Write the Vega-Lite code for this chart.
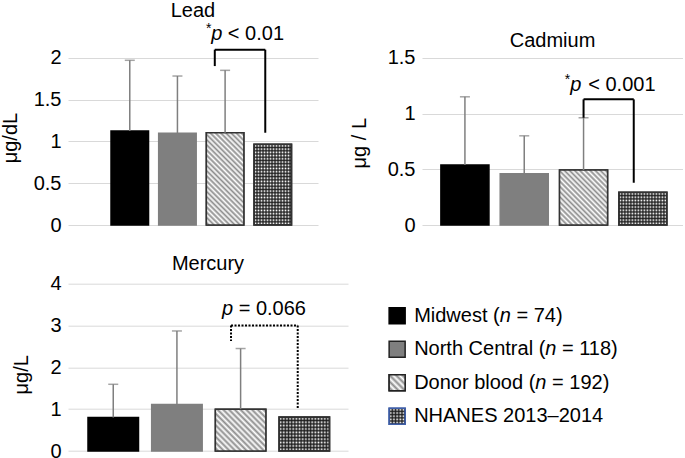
{
  "$schema": "https://vega.github.io/schema/vega-lite/v6.json",
  "background": "white",
  "padding": {"left": 0, "top": 0, "right": 0, "bottom": 3},
  "config": {
    "font": "Liberation Sans",
    "view": {"stroke": null},
    "text": {"font": "Liberation Sans", "fontSize": 20, "color": "#000"},
    "axis": {"labelFontSize": 20, "titleFontSize": 20, "labelColor": "#000", "titleColor": "#000", "titleFontWeight": "normal", "domain": false, "ticks": false, "gridColor": "#d9d9d9", "gridWidth": 1, "labelPadding": 7, "labelFont": "Liberation Sans", "titleFont": "Liberation Sans", "format": "~g"},
    "title": {"fontSize": 20, "fontWeight": "normal", "font": "Liberation Sans", "color": "#000", "frame": "group", "baseline": "alphabetic"}
  },
  "datasets": {
    "bars": [
      {"panel": "Lead", "g": "Midwest", "mean": 1.124, "upper": 1.969},
      {"panel": "Lead", "g": "North Central", "mean": 1.096, "upper": 1.781},
      {"panel": "Lead", "g": "Donor blood", "mean": 1.103, "upper": 1.849},
      {"panel": "Lead", "g": "NHANES 2013–2014", "mean": 0.965, "upper": null},
      {"panel": "Cadmium", "g": "Midwest", "mean": 0.538, "upper": 1.15},
      {"panel": "Cadmium", "g": "North Central", "mean": 0.46, "upper": 0.8},
      {"panel": "Cadmium", "g": "Donor blood", "mean": 0.493, "upper": 0.962},
      {"panel": "Cadmium", "g": "NHANES 2013–2014", "mean": 0.293, "upper": null},
      {"panel": "Mercury", "g": "Midwest", "mean": 0.8, "upper": 1.595},
      {"panel": "Mercury", "g": "North Central", "mean": 1.11, "upper": 2.87},
      {"panel": "Mercury", "g": "Donor blood", "mean": 1.0, "upper": 2.45},
      {"panel": "Mercury", "g": "NHANES 2013–2014", "mean": 0.81, "upper": null}
    ],
    "brackets": [
      {"panel": "Lead", "left": "Donor blood", "right": "NHANES 2013–2014", "top": 2.096, "lbot": 1.9, "rbot": 1.103, "ty": 2.212},
      {"panel": "Cadmium", "left": "Donor blood", "right": "NHANES 2013–2014", "top": 1.127, "lbot": 0.962, "rbot": 0.379, "ty": 1.202},
      {"panel": "Mercury", "left": "Donor blood", "right": "NHANES 2013–2014", "top": 3.0, "lbot": 2.63, "rbot": 1.0, "ty": 3.244}
    ],
    "legend": [
      {"g": "Midwest", "pre": "Midwest (", "post": "= 74)"},
      {"g": "North Central", "pre": "North Central (", "post": "= 118)"},
      {"g": "Donor blood", "pre": "Donor blood (", "post": "= 192)"},
      {"g": "NHANES 2013–2014", "pre": "NHANES 2013–2014", "post": ""}
    ]
  },
  "resolve": {"scale": {"fill": "independent", "stroke": "independent"}},
  "columns": 2,
  "bounds": "flush",
  "spacing": {"row": 58.7, "column": 74},
  "concat": [
    {
      "width": 250, "height": 200,
      "title": {"text": "Lead", "offset": 1},
      "data": {"name": "bars"},
      "transform": [{"filter": "datum.panel == 'Lead'"}],
      "encoding": {
        "x": {"field": "g", "type": "nominal", "axis": null, "scale": {"domain": ["Midwest", "North Central", "Donor blood", "NHANES 2013–2014"], "paddingInner": 0.213, "paddingOuter": 0.729, "align": 0.619}},
        "y": {"field": "mean", "type": "quantitative", "scale": {"domain": [0, 2.391], "nice": false}, "axis": {"values": [0, 0.5, 1, 1.5, 2], "title": "μg/dL", "titlePadding": 13, "titleY": 112.6}}
      },
      "layer": [
        {"mark": {"type": "bar", "strokeWidth": 1.5},
         "encoding": {
           "fill": {"field": "g", "scale": {"domain": ["Midwest", "North Central", "Donor blood", "NHANES 2013–2014"], "range": ["#000000", "#7f7f7f", "#ffffff", "#ffffff"]}, "legend": null},
           "stroke": {"field": "g", "scale": {"domain": ["Midwest", "North Central", "Donor blood", "NHANES 2013–2014"], "range": ["#000000", "#7f7f7f", "#333333", "#333333"]}, "legend": null}}},
        {"transform": [{"filter": "datum.g == 'Donor blood'"}],
         "mark": {"type": "bar", "stroke": "#333333", "strokeWidth": 1.5,
           "fill": {"gradient": "linear", "x1": 0, "y1": 1, "x2": 0.49, "y2": -0.207, "stops": [{"offset":0,"color":"#fff"},{"offset":0.02,"color":"#8c8c8c"},{"offset":0.04,"color":"#fff"},{"offset":0.06,"color":"#8c8c8c"},{"offset":0.08,"color":"#fff"},{"offset":0.1,"color":"#8c8c8c"},{"offset":0.12,"color":"#fff"},{"offset":0.14,"color":"#8c8c8c"},{"offset":0.16,"color":"#fff"},{"offset":0.18,"color":"#8c8c8c"},{"offset":0.2,"color":"#fff"},{"offset":0.22,"color":"#8c8c8c"},{"offset":0.24,"color":"#fff"},{"offset":0.26,"color":"#8c8c8c"},{"offset":0.28,"color":"#fff"},{"offset":0.3,"color":"#8c8c8c"},{"offset":0.32,"color":"#fff"},{"offset":0.34,"color":"#8c8c8c"},{"offset":0.36,"color":"#fff"},{"offset":0.38,"color":"#8c8c8c"},{"offset":0.4,"color":"#fff"},{"offset":0.42,"color":"#8c8c8c"},{"offset":0.44,"color":"#fff"},{"offset":0.46,"color":"#8c8c8c"},{"offset":0.48,"color":"#fff"},{"offset":0.5,"color":"#8c8c8c"},{"offset":0.52,"color":"#fff"},{"offset":0.54,"color":"#8c8c8c"},{"offset":0.56,"color":"#fff"},{"offset":0.58,"color":"#8c8c8c"},{"offset":0.6,"color":"#fff"},{"offset":0.62,"color":"#8c8c8c"},{"offset":0.64,"color":"#fff"},{"offset":0.66,"color":"#8c8c8c"},{"offset":0.68,"color":"#fff"},{"offset":0.7,"color":"#8c8c8c"},{"offset":0.72,"color":"#fff"},{"offset":0.74,"color":"#8c8c8c"},{"offset":0.76,"color":"#fff"},{"offset":0.78,"color":"#8c8c8c"},{"offset":0.8,"color":"#fff"},{"offset":0.82,"color":"#8c8c8c"},{"offset":0.84,"color":"#fff"},{"offset":0.86,"color":"#8c8c8c"},{"offset":0.88,"color":"#fff"},{"offset":0.9,"color":"#8c8c8c"},{"offset":0.92,"color":"#fff"},{"offset":0.94,"color":"#8c8c8c"},{"offset":0.96,"color":"#fff"},{"offset":0.98,"color":"#8c8c8c"},{"offset":1,"color":"#fff"}]}}},
        {"transform": [{"filter": "datum.g == 'NHANES 2013–2014'"}],
         "mark": {"type": "bar", "strokeWidth": 0,
           "fill": {"gradient": "linear", "x1": 0, "y1": 0, "x2": 1, "y2": 0, "stops": [{"offset":0,"color":"rgba(25,25,25,0.9)"},{"offset":0.04,"color":"rgba(25,25,25,0)"},{"offset":0.08,"color":"rgba(25,25,25,0.9)"},{"offset":0.12,"color":"rgba(25,25,25,0)"},{"offset":0.16,"color":"rgba(25,25,25,0.9)"},{"offset":0.2,"color":"rgba(25,25,25,0)"},{"offset":0.24,"color":"rgba(25,25,25,0.9)"},{"offset":0.28,"color":"rgba(25,25,25,0)"},{"offset":0.32,"color":"rgba(25,25,25,0.9)"},{"offset":0.36,"color":"rgba(25,25,25,0)"},{"offset":0.4,"color":"rgba(25,25,25,0.9)"},{"offset":0.44,"color":"rgba(25,25,25,0)"},{"offset":0.48,"color":"rgba(25,25,25,0.9)"},{"offset":0.52,"color":"rgba(25,25,25,0)"},{"offset":0.56,"color":"rgba(25,25,25,0.9)"},{"offset":0.6,"color":"rgba(25,25,25,0)"},{"offset":0.64,"color":"rgba(25,25,25,0.9)"},{"offset":0.68,"color":"rgba(25,25,25,0)"},{"offset":0.72,"color":"rgba(25,25,25,0.9)"},{"offset":0.76,"color":"rgba(25,25,25,0)"},{"offset":0.8,"color":"rgba(25,25,25,0.9)"},{"offset":0.84,"color":"rgba(25,25,25,0)"},{"offset":0.88,"color":"rgba(25,25,25,0.9)"},{"offset":0.92,"color":"rgba(25,25,25,0)"},{"offset":0.96,"color":"rgba(25,25,25,0.9)"},{"offset":1,"color":"rgba(25,25,25,0)"}]}}},
        {"transform": [{"filter": "datum.g == 'NHANES 2013–2014'"}],
         "mark": {"type": "bar", "stroke": "#333333", "strokeWidth": 1.5,
           "fill": {"gradient": "linear", "x1": 0, "y1": 0, "x2": 0, "y2": 1, "stops": [{"offset":0,"color":"rgba(25,25,25,0.9)"},{"offset":0.02,"color":"rgba(25,25,25,0)"},{"offset":0.04,"color":"rgba(25,25,25,0.9)"},{"offset":0.06,"color":"rgba(25,25,25,0)"},{"offset":0.08,"color":"rgba(25,25,25,0.9)"},{"offset":0.1,"color":"rgba(25,25,25,0)"},{"offset":0.12,"color":"rgba(25,25,25,0.9)"},{"offset":0.14,"color":"rgba(25,25,25,0)"},{"offset":0.16,"color":"rgba(25,25,25,0.9)"},{"offset":0.18,"color":"rgba(25,25,25,0)"},{"offset":0.2,"color":"rgba(25,25,25,0.9)"},{"offset":0.22,"color":"rgba(25,25,25,0)"},{"offset":0.24,"color":"rgba(25,25,25,0.9)"},{"offset":0.26,"color":"rgba(25,25,25,0)"},{"offset":0.28,"color":"rgba(25,25,25,0.9)"},{"offset":0.3,"color":"rgba(25,25,25,0)"},{"offset":0.32,"color":"rgba(25,25,25,0.9)"},{"offset":0.34,"color":"rgba(25,25,25,0)"},{"offset":0.36,"color":"rgba(25,25,25,0.9)"},{"offset":0.38,"color":"rgba(25,25,25,0)"},{"offset":0.4,"color":"rgba(25,25,25,0.9)"},{"offset":0.42,"color":"rgba(25,25,25,0)"},{"offset":0.44,"color":"rgba(25,25,25,0.9)"},{"offset":0.46,"color":"rgba(25,25,25,0)"},{"offset":0.48,"color":"rgba(25,25,25,0.9)"},{"offset":0.5,"color":"rgba(25,25,25,0)"},{"offset":0.52,"color":"rgba(25,25,25,0.9)"},{"offset":0.54,"color":"rgba(25,25,25,0)"},{"offset":0.56,"color":"rgba(25,25,25,0.9)"},{"offset":0.58,"color":"rgba(25,25,25,0)"},{"offset":0.6,"color":"rgba(25,25,25,0.9)"},{"offset":0.62,"color":"rgba(25,25,25,0)"},{"offset":0.64,"color":"rgba(25,25,25,0.9)"},{"offset":0.66,"color":"rgba(25,25,25,0)"},{"offset":0.68,"color":"rgba(25,25,25,0.9)"},{"offset":0.7,"color":"rgba(25,25,25,0)"},{"offset":0.72,"color":"rgba(25,25,25,0.9)"},{"offset":0.74,"color":"rgba(25,25,25,0)"},{"offset":0.76,"color":"rgba(25,25,25,0.9)"},{"offset":0.78,"color":"rgba(25,25,25,0)"},{"offset":0.8,"color":"rgba(25,25,25,0.9)"},{"offset":0.82,"color":"rgba(25,25,25,0)"},{"offset":0.84,"color":"rgba(25,25,25,0.9)"},{"offset":0.86,"color":"rgba(25,25,25,0)"},{"offset":0.88,"color":"rgba(25,25,25,0.9)"},{"offset":0.9,"color":"rgba(25,25,25,0)"},{"offset":0.92,"color":"rgba(25,25,25,0.9)"},{"offset":0.94,"color":"rgba(25,25,25,0)"},{"offset":0.96,"color":"rgba(25,25,25,0.9)"},{"offset":0.98,"color":"rgba(25,25,25,0)"},{"offset":1,"color":"rgba(25,25,25,0.9)"}]}}},
        {"transform": [{"filter": "isValid(datum.upper)"}],
         "mark": {"type": "rule", "color": "#7f7f7f", "strokeWidth": 1.5},
         "encoding": {"y2": {"field": "upper"}}},
        {"transform": [{"filter": "isValid(datum.upper)"}],
         "mark": {"type": "tick", "color": "#7f7f7f", "thickness": 1.5, "size": 10},
         "encoding": {"y": {"field": "upper", "type": "quantitative", "title": "μg/dL"}}},
        {"data": {"name": "brackets"},
         "transform": [{"filter": "datum.panel == 'Lead'"}],
         "layer": [
           {"mark": {"type": "rule", "color": "#000", "strokeWidth": 2},
            "encoding": {"x": {"field": "left", "type": "nominal", "bandPosition": 0.225, "axis": null}, "y": {"field": "top", "type": "quantitative", "title": "μg/dL"}, "y2": {"field": "lbot"}}},
           {"mark": {"type": "rule", "color": "#000", "strokeWidth": 2},
            "encoding": {"x": {"field": "right", "type": "nominal", "bandPosition": 0.3, "axis": null}, "y": {"field": "top", "type": "quantitative", "title": "μg/dL"}, "y2": {"field": "rbot"}}},
           {"mark": {"type": "rule", "color": "#000", "strokeWidth": 2},
            "encoding": {"x": {"field": "left", "type": "nominal", "bandPosition": 0.225, "axis": null}, "x2": {"field": "right", "bandPosition": 0.3}, "y": {"field": "top", "type": "quantitative", "title": "μg/dL"}}},
           {"mark": {"type": "text", "text": "*", "fontSize": 14, "align": "right", "baseline": "alphabetic", "dx": 5, "dy": -7},
            "encoding": {"x": {"field": "left", "type": "nominal", "bandPosition": 0, "axis": null}, "y": {"field": "ty", "type": "quantitative", "title": "μg/dL"}}},
           {"mark": {"type": "text", "text": "p", "fontStyle": "italic", "fontSize": 20, "align": "left", "baseline": "alphabetic", "dx": 5},
            "encoding": {"x": {"field": "left", "type": "nominal", "bandPosition": 0, "axis": null}, "y": {"field": "ty", "type": "quantitative", "title": "μg/dL"}}},
           {"mark": {"type": "text", "text": "< 0.01", "fontSize": 20, "align": "left", "baseline": "alphabetic", "dx": 21.5},
            "encoding": {"x": {"field": "left", "type": "nominal", "bandPosition": 0, "axis": null}, "y": {"field": "ty", "type": "quantitative", "title": "μg/dL"}}}
         ]}
      ]
    },
    {
      "width": 261, "height": 200,
      "title": {"text": "Cadmium", "offset": -26},
      "data": {"name": "bars"},
      "transform": [{"filter": "datum.panel == 'Cadmium'"}],
      "encoding": {
        "x": {"field": "g", "type": "nominal", "axis": null, "scale": {"domain": ["Midwest", "North Central", "Donor blood", "NHANES 2013–2014"], "paddingInner": 0.19, "paddingOuter": 0.295, "align": 0.54}},
        "y": {"field": "mean", "type": "quantitative", "scale": {"domain": [0, 1.794], "nice": false}, "axis": {"values": [0, 0.5, 1, 1.5], "title": "μg / L", "titlePadding": 18, "titleY": 117.7}}
      },
      "layer": [
        {"mark": {"type": "bar", "strokeWidth": 1.5},
         "encoding": {
           "fill": {"field": "g", "scale": {"domain": ["Midwest", "North Central", "Donor blood", "NHANES 2013–2014"], "range": ["#000000", "#7f7f7f", "#ffffff", "#ffffff"]}, "legend": null},
           "stroke": {"field": "g", "scale": {"domain": ["Midwest", "North Central", "Donor blood", "NHANES 2013–2014"], "range": ["#000000", "#7f7f7f", "#333333", "#333333"]}, "legend": null}}},
        {"transform": [{"filter": "datum.g == 'Donor blood'"}],
         "mark": {"type": "bar", "stroke": "#333333", "strokeWidth": 1.5,
           "fill": {"gradient": "linear", "x1": 0, "y1": 1, "x2": 0.933, "y2": -0.06, "stops": [{"offset":0,"color":"#fff"},{"offset":0.025,"color":"#8c8c8c"},{"offset":0.05,"color":"#fff"},{"offset":0.075,"color":"#8c8c8c"},{"offset":0.1,"color":"#fff"},{"offset":0.125,"color":"#8c8c8c"},{"offset":0.15,"color":"#fff"},{"offset":0.175,"color":"#8c8c8c"},{"offset":0.2,"color":"#fff"},{"offset":0.225,"color":"#8c8c8c"},{"offset":0.25,"color":"#fff"},{"offset":0.275,"color":"#8c8c8c"},{"offset":0.3,"color":"#fff"},{"offset":0.325,"color":"#8c8c8c"},{"offset":0.35,"color":"#fff"},{"offset":0.375,"color":"#8c8c8c"},{"offset":0.4,"color":"#fff"},{"offset":0.425,"color":"#8c8c8c"},{"offset":0.45,"color":"#fff"},{"offset":0.475,"color":"#8c8c8c"},{"offset":0.5,"color":"#fff"},{"offset":0.525,"color":"#8c8c8c"},{"offset":0.55,"color":"#fff"},{"offset":0.575,"color":"#8c8c8c"},{"offset":0.6,"color":"#fff"},{"offset":0.625,"color":"#8c8c8c"},{"offset":0.65,"color":"#fff"},{"offset":0.675,"color":"#8c8c8c"},{"offset":0.7,"color":"#fff"},{"offset":0.725,"color":"#8c8c8c"},{"offset":0.75,"color":"#fff"},{"offset":0.775,"color":"#8c8c8c"},{"offset":0.8,"color":"#fff"},{"offset":0.825,"color":"#8c8c8c"},{"offset":0.85,"color":"#fff"},{"offset":0.875,"color":"#8c8c8c"},{"offset":0.9,"color":"#fff"},{"offset":0.925,"color":"#8c8c8c"},{"offset":0.95,"color":"#fff"},{"offset":0.975,"color":"#8c8c8c"},{"offset":1,"color":"#fff"}]}}},
        {"transform": [{"filter": "datum.g == 'NHANES 2013–2014'"}],
         "mark": {"type": "bar", "strokeWidth": 0,
           "fill": {"gradient": "linear", "x1": 0, "y1": 0, "x2": 1, "y2": 0, "stops": [{"offset":0,"color":"rgba(25,25,25,0.9)"},{"offset":0.03125,"color":"rgba(25,25,25,0)"},{"offset":0.0625,"color":"rgba(25,25,25,0.9)"},{"offset":0.09375,"color":"rgba(25,25,25,0)"},{"offset":0.125,"color":"rgba(25,25,25,0.9)"},{"offset":0.15625,"color":"rgba(25,25,25,0)"},{"offset":0.1875,"color":"rgba(25,25,25,0.9)"},{"offset":0.21875,"color":"rgba(25,25,25,0)"},{"offset":0.25,"color":"rgba(25,25,25,0.9)"},{"offset":0.28125,"color":"rgba(25,25,25,0)"},{"offset":0.3125,"color":"rgba(25,25,25,0.9)"},{"offset":0.34375,"color":"rgba(25,25,25,0)"},{"offset":0.375,"color":"rgba(25,25,25,0.9)"},{"offset":0.40625,"color":"rgba(25,25,25,0)"},{"offset":0.4375,"color":"rgba(25,25,25,0.9)"},{"offset":0.46875,"color":"rgba(25,25,25,0)"},{"offset":0.5,"color":"rgba(25,25,25,0.9)"},{"offset":0.53125,"color":"rgba(25,25,25,0)"},{"offset":0.5625,"color":"rgba(25,25,25,0.9)"},{"offset":0.59375,"color":"rgba(25,25,25,0)"},{"offset":0.625,"color":"rgba(25,25,25,0.9)"},{"offset":0.65625,"color":"rgba(25,25,25,0)"},{"offset":0.6875,"color":"rgba(25,25,25,0.9)"},{"offset":0.71875,"color":"rgba(25,25,25,0)"},{"offset":0.75,"color":"rgba(25,25,25,0.9)"},{"offset":0.78125,"color":"rgba(25,25,25,0)"},{"offset":0.8125,"color":"rgba(25,25,25,0.9)"},{"offset":0.84375,"color":"rgba(25,25,25,0)"},{"offset":0.875,"color":"rgba(25,25,25,0.9)"},{"offset":0.90625,"color":"rgba(25,25,25,0)"},{"offset":0.9375,"color":"rgba(25,25,25,0.9)"},{"offset":0.96875,"color":"rgba(25,25,25,0)"},{"offset":1,"color":"rgba(25,25,25,0.9)"}]}}},
        {"transform": [{"filter": "datum.g == 'NHANES 2013–2014'"}],
         "mark": {"type": "bar", "stroke": "#333333", "strokeWidth": 1.5,
           "fill": {"gradient": "linear", "x1": 0, "y1": 0, "x2": 0, "y2": 1, "stops": [{"offset":0,"color":"rgba(25,25,25,0.9)"},{"offset":0.05,"color":"rgba(25,25,25,0)"},{"offset":0.1,"color":"rgba(25,25,25,0.9)"},{"offset":0.15,"color":"rgba(25,25,25,0)"},{"offset":0.2,"color":"rgba(25,25,25,0.9)"},{"offset":0.25,"color":"rgba(25,25,25,0)"},{"offset":0.3,"color":"rgba(25,25,25,0.9)"},{"offset":0.35,"color":"rgba(25,25,25,0)"},{"offset":0.4,"color":"rgba(25,25,25,0.9)"},{"offset":0.45,"color":"rgba(25,25,25,0)"},{"offset":0.5,"color":"rgba(25,25,25,0.9)"},{"offset":0.55,"color":"rgba(25,25,25,0)"},{"offset":0.6,"color":"rgba(25,25,25,0.9)"},{"offset":0.65,"color":"rgba(25,25,25,0)"},{"offset":0.7,"color":"rgba(25,25,25,0.9)"},{"offset":0.75,"color":"rgba(25,25,25,0)"},{"offset":0.8,"color":"rgba(25,25,25,0.9)"},{"offset":0.85,"color":"rgba(25,25,25,0)"},{"offset":0.9,"color":"rgba(25,25,25,0.9)"},{"offset":0.95,"color":"rgba(25,25,25,0)"},{"offset":1,"color":"rgba(25,25,25,0.9)"}]}}},
        {"transform": [{"filter": "isValid(datum.upper)"}],
         "mark": {"type": "rule", "color": "#7f7f7f", "strokeWidth": 1.5},
         "encoding": {"y2": {"field": "upper"}}},
        {"transform": [{"filter": "isValid(datum.upper)"}],
         "mark": {"type": "tick", "color": "#7f7f7f", "thickness": 1.5, "size": 10},
         "encoding": {"y": {"field": "upper", "type": "quantitative", "title": "μg / L"}}},
        {"data": {"name": "brackets"},
         "transform": [{"filter": "datum.panel == 'Cadmium'"}],
         "layer": [
           {"mark": {"type": "rule", "color": "#000", "strokeWidth": 2},
            "encoding": {"x": {"field": "left", "type": "nominal", "bandPosition": 0.5, "axis": null}, "y": {"field": "top", "type": "quantitative", "title": "μg / L"}, "y2": {"field": "lbot"}}},
           {"mark": {"type": "rule", "color": "#000", "strokeWidth": 2},
            "encoding": {"x": {"field": "right", "type": "nominal", "bandPosition": 0.31, "axis": null}, "y": {"field": "top", "type": "quantitative", "title": "μg / L"}, "y2": {"field": "rbot"}}},
           {"mark": {"type": "rule", "color": "#000", "strokeWidth": 2},
            "encoding": {"x": {"field": "left", "type": "nominal", "bandPosition": 0.5, "axis": null}, "x2": {"field": "right", "bandPosition": 0.31}, "y": {"field": "top", "type": "quantitative", "title": "μg / L"}}},
           {"mark": {"type": "text", "text": "*", "fontSize": 14, "align": "right", "baseline": "alphabetic", "dx": 10.7, "dy": -7},
            "encoding": {"x": {"field": "left", "type": "nominal", "bandPosition": 0, "axis": null}, "y": {"field": "ty", "type": "quantitative", "title": "μg / L"}}},
           {"mark": {"type": "text", "text": "p", "fontStyle": "italic", "fontSize": 20, "align": "left", "baseline": "alphabetic", "dx": 10.7},
            "encoding": {"x": {"field": "left", "type": "nominal", "bandPosition": 0, "axis": null}, "y": {"field": "ty", "type": "quantitative", "title": "μg / L"}}},
           {"mark": {"type": "text", "text": "< 0.001", "fontSize": 20, "align": "left", "baseline": "alphabetic", "dx": 28.7},
            "encoding": {"x": {"field": "left", "type": "nominal", "bandPosition": 0, "axis": null}, "y": {"field": "ty", "type": "quantitative", "title": "μg / L"}}}
         ]}
      ]
    },
    {
      "width": 280, "height": 167.3,
      "title": {"text": "Mercury", "offset": -0.3},
      "data": {"name": "bars"},
      "transform": [{"filter": "datum.panel == 'Mercury'"}],
      "encoding": {
        "x": {"field": "g", "type": "nominal", "axis": null, "scale": {"domain": ["Midwest", "North Central", "Donor blood", "NHANES 2013–2014"], "paddingInner": 0.207, "paddingOuter": 0.302, "align": 0.52}},
        "y": {"field": "mean", "type": "quantitative", "scale": {"domain": [0, 4], "nice": false}, "axis": {"values": [0, 1, 2, 3, 4], "title": "μg/L", "titlePadding": 18, "titleY": 90.6}}
      },
      "layer": [
        {"mark": {"type": "bar", "strokeWidth": 1.5},
         "encoding": {
           "fill": {"field": "g", "scale": {"domain": ["Midwest", "North Central", "Donor blood", "NHANES 2013–2014"], "range": ["#000000", "#7f7f7f", "#ffffff", "#ffffff"]}, "legend": null},
           "stroke": {"field": "g", "scale": {"domain": ["Midwest", "North Central", "Donor blood", "NHANES 2013–2014"], "range": ["#000000", "#7f7f7f", "#333333", "#333333"]}, "legend": null}}},
        {"transform": [{"filter": "datum.g == 'Donor blood'"}],
         "mark": {"type": "bar", "stroke": "#333333", "strokeWidth": 1.5,
           "fill": {"gradient": "linear", "x1": 0, "y1": 1, "x2": 1.089, "y2": 0.107, "stops": [{"offset":0,"color":"#fff"},{"offset":0.03125,"color":"#8c8c8c"},{"offset":0.0625,"color":"#fff"},{"offset":0.09375,"color":"#8c8c8c"},{"offset":0.125,"color":"#fff"},{"offset":0.15625,"color":"#8c8c8c"},{"offset":0.1875,"color":"#fff"},{"offset":0.21875,"color":"#8c8c8c"},{"offset":0.25,"color":"#fff"},{"offset":0.28125,"color":"#8c8c8c"},{"offset":0.3125,"color":"#fff"},{"offset":0.34375,"color":"#8c8c8c"},{"offset":0.375,"color":"#fff"},{"offset":0.40625,"color":"#8c8c8c"},{"offset":0.4375,"color":"#fff"},{"offset":0.46875,"color":"#8c8c8c"},{"offset":0.5,"color":"#fff"},{"offset":0.53125,"color":"#8c8c8c"},{"offset":0.5625,"color":"#fff"},{"offset":0.59375,"color":"#8c8c8c"},{"offset":0.625,"color":"#fff"},{"offset":0.65625,"color":"#8c8c8c"},{"offset":0.6875,"color":"#fff"},{"offset":0.71875,"color":"#8c8c8c"},{"offset":0.75,"color":"#fff"},{"offset":0.78125,"color":"#8c8c8c"},{"offset":0.8125,"color":"#fff"},{"offset":0.84375,"color":"#8c8c8c"},{"offset":0.875,"color":"#fff"},{"offset":0.90625,"color":"#8c8c8c"},{"offset":0.9375,"color":"#fff"},{"offset":0.96875,"color":"#8c8c8c"},{"offset":1,"color":"#fff"}]}}},
        {"transform": [{"filter": "datum.g == 'NHANES 2013–2014'"}],
         "mark": {"type": "bar", "strokeWidth": 0,
           "fill": {"gradient": "linear", "x1": 0, "y1": 0, "x2": 1, "y2": 0, "stops": [{"offset":0,"color":"rgba(25,25,25,0.9)"},{"offset":0.03125,"color":"rgba(25,25,25,0)"},{"offset":0.0625,"color":"rgba(25,25,25,0.9)"},{"offset":0.09375,"color":"rgba(25,25,25,0)"},{"offset":0.125,"color":"rgba(25,25,25,0.9)"},{"offset":0.15625,"color":"rgba(25,25,25,0)"},{"offset":0.1875,"color":"rgba(25,25,25,0.9)"},{"offset":0.21875,"color":"rgba(25,25,25,0)"},{"offset":0.25,"color":"rgba(25,25,25,0.9)"},{"offset":0.28125,"color":"rgba(25,25,25,0)"},{"offset":0.3125,"color":"rgba(25,25,25,0.9)"},{"offset":0.34375,"color":"rgba(25,25,25,0)"},{"offset":0.375,"color":"rgba(25,25,25,0.9)"},{"offset":0.40625,"color":"rgba(25,25,25,0)"},{"offset":0.4375,"color":"rgba(25,25,25,0.9)"},{"offset":0.46875,"color":"rgba(25,25,25,0)"},{"offset":0.5,"color":"rgba(25,25,25,0.9)"},{"offset":0.53125,"color":"rgba(25,25,25,0)"},{"offset":0.5625,"color":"rgba(25,25,25,0.9)"},{"offset":0.59375,"color":"rgba(25,25,25,0)"},{"offset":0.625,"color":"rgba(25,25,25,0.9)"},{"offset":0.65625,"color":"rgba(25,25,25,0)"},{"offset":0.6875,"color":"rgba(25,25,25,0.9)"},{"offset":0.71875,"color":"rgba(25,25,25,0)"},{"offset":0.75,"color":"rgba(25,25,25,0.9)"},{"offset":0.78125,"color":"rgba(25,25,25,0)"},{"offset":0.8125,"color":"rgba(25,25,25,0.9)"},{"offset":0.84375,"color":"rgba(25,25,25,0)"},{"offset":0.875,"color":"rgba(25,25,25,0.9)"},{"offset":0.90625,"color":"rgba(25,25,25,0)"},{"offset":0.9375,"color":"rgba(25,25,25,0.9)"},{"offset":0.96875,"color":"rgba(25,25,25,0)"},{"offset":1,"color":"rgba(25,25,25,0.9)"}]}}},
        {"transform": [{"filter": "datum.g == 'NHANES 2013–2014'"}],
         "mark": {"type": "bar", "stroke": "#333333", "strokeWidth": 1.5,
           "fill": {"gradient": "linear", "x1": 0, "y1": 0, "x2": 0, "y2": 1, "stops": [{"offset":0,"color":"rgba(25,25,25,0.9)"},{"offset":0.05,"color":"rgba(25,25,25,0)"},{"offset":0.1,"color":"rgba(25,25,25,0.9)"},{"offset":0.15,"color":"rgba(25,25,25,0)"},{"offset":0.2,"color":"rgba(25,25,25,0.9)"},{"offset":0.25,"color":"rgba(25,25,25,0)"},{"offset":0.3,"color":"rgba(25,25,25,0.9)"},{"offset":0.35,"color":"rgba(25,25,25,0)"},{"offset":0.4,"color":"rgba(25,25,25,0.9)"},{"offset":0.45,"color":"rgba(25,25,25,0)"},{"offset":0.5,"color":"rgba(25,25,25,0.9)"},{"offset":0.55,"color":"rgba(25,25,25,0)"},{"offset":0.6,"color":"rgba(25,25,25,0.9)"},{"offset":0.65,"color":"rgba(25,25,25,0)"},{"offset":0.7,"color":"rgba(25,25,25,0.9)"},{"offset":0.75,"color":"rgba(25,25,25,0)"},{"offset":0.8,"color":"rgba(25,25,25,0.9)"},{"offset":0.85,"color":"rgba(25,25,25,0)"},{"offset":0.9,"color":"rgba(25,25,25,0.9)"},{"offset":0.95,"color":"rgba(25,25,25,0)"},{"offset":1,"color":"rgba(25,25,25,0.9)"}]}}},
        {"transform": [{"filter": "isValid(datum.upper)"}],
         "mark": {"type": "rule", "color": "#7f7f7f", "strokeWidth": 1.5},
         "encoding": {"y2": {"field": "upper"}}},
        {"transform": [{"filter": "isValid(datum.upper)"}],
         "mark": {"type": "tick", "color": "#7f7f7f", "thickness": 1.5, "size": 10},
         "encoding": {"y": {"field": "upper", "type": "quantitative", "title": "μg/L"}}},
        {"data": {"name": "brackets"},
         "transform": [{"filter": "datum.panel == 'Mercury'"}],
         "layer": [
           {"mark": {"type": "rule", "color": "#000", "strokeWidth": 2, "strokeDash": [2, 1.5]},
            "encoding": {"x": {"field": "left", "type": "nominal", "bandPosition": 0.31, "axis": null}, "y": {"field": "top", "type": "quantitative", "title": "μg/L"}, "y2": {"field": "lbot"}}},
           {"mark": {"type": "rule", "color": "#000", "strokeWidth": 2, "strokeDash": [2, 1.5]},
            "encoding": {"x": {"field": "right", "type": "nominal", "bandPosition": 0.37, "axis": null}, "y": {"field": "top", "type": "quantitative", "title": "μg/L"}, "y2": {"field": "rbot"}}},
           {"mark": {"type": "rule", "color": "#000", "strokeWidth": 2, "strokeDash": [2, 1.5]},
            "encoding": {"x": {"field": "left", "type": "nominal", "bandPosition": 0.31, "axis": null}, "x2": {"field": "right", "bandPosition": 0.37}, "y": {"field": "top", "type": "quantitative", "title": "μg/L"}}},
           {"mark": {"type": "text", "text": "p", "fontStyle": "italic", "fontSize": 20, "align": "left", "baseline": "alphabetic", "dx": 6.7},
            "encoding": {"x": {"field": "left", "type": "nominal", "bandPosition": 0, "axis": null}, "y": {"field": "ty", "type": "quantitative", "title": "μg/L"}}},
           {"mark": {"type": "text", "text": "= 0.066", "fontSize": 20, "align": "left", "baseline": "alphabetic", "dx": 23.3},
            "encoding": {"x": {"field": "left", "type": "nominal", "bandPosition": 0, "axis": null}, "y": {"field": "ty", "type": "quantitative", "title": "μg/L"}}}
         ]}
      ]
    },
    {
      "width": 261, "height": 167.3,
      "data": {"name": "legend"},
      "encoding": {
        "x": {"datum": -1, "type": "quantitative", "scale": {"domain": [0, 10.5], "nice": false, "zero": false}, "axis": null},
        "y": {"field": "g", "type": "nominal", "scale": {"type": "point", "domain": ["Midwest", "North Central", "Donor blood", "NHANES 2013–2014"], "padding": 1.05, "align": 0.48}, "axis": null}
      },
      "layer": [
        {"mark": {"type": "point", "shape": "square", "size": 256, "filled": true, "opacity": 1, "strokeWidth": 1.5},
         "encoding": {
           "fill": {"field": "g", "scale": {"domain": ["Midwest", "North Central", "Donor blood", "NHANES 2013–2014"], "range": ["#000000", "#7f7f7f", "#ffffff", "#ffffff"]}, "legend": null},
           "stroke": {"field": "g", "scale": {"domain": ["Midwest", "North Central", "Donor blood", "NHANES 2013–2014"], "range": ["#000000", "#222222", "#222222", "#3f5fa8"]}, "legend": null}}},
        {"transform": [{"filter": "datum.g == 'Donor blood'"}],
         "mark": {"type": "point", "shape": "square", "size": 256, "opacity": 1, "stroke": "#222222", "strokeWidth": 1.5,
           "fill": {"gradient": "linear", "x1": 0, "y1": 1, "x2": 1, "y2": 0, "stops": [{"offset":0,"color":"#fff"},{"offset":0.1,"color":"#8c8c8c"},{"offset":0.2,"color":"#fff"},{"offset":0.3,"color":"#8c8c8c"},{"offset":0.4,"color":"#fff"},{"offset":0.5,"color":"#8c8c8c"},{"offset":0.6,"color":"#fff"},{"offset":0.7,"color":"#8c8c8c"},{"offset":0.8,"color":"#fff"},{"offset":0.9,"color":"#8c8c8c"},{"offset":1,"color":"#fff"}]}}},
        {"transform": [{"filter": "datum.g == 'NHANES 2013–2014'"}],
         "mark": {"type": "point", "shape": "square", "size": 256, "opacity": 1, "strokeWidth": 0,
           "fill": {"gradient": "linear", "x1": 0, "y1": 0, "x2": 1, "y2": 0, "stops": [{"offset":0,"color":"rgba(25,25,25,0.9)"},{"offset":0.1,"color":"rgba(25,25,25,0)"},{"offset":0.2,"color":"rgba(25,25,25,0.9)"},{"offset":0.3,"color":"rgba(25,25,25,0)"},{"offset":0.4,"color":"rgba(25,25,25,0.9)"},{"offset":0.5,"color":"rgba(25,25,25,0)"},{"offset":0.6,"color":"rgba(25,25,25,0.9)"},{"offset":0.7,"color":"rgba(25,25,25,0)"},{"offset":0.8,"color":"rgba(25,25,25,0.9)"},{"offset":0.9,"color":"rgba(25,25,25,0)"},{"offset":1,"color":"rgba(25,25,25,0.9)"}]}}},
        {"transform": [{"filter": "datum.g == 'NHANES 2013–2014'"}],
         "mark": {"type": "point", "shape": "square", "size": 256, "opacity": 1, "stroke": "#3f5fa8", "strokeWidth": 1.5,
           "fill": {"gradient": "linear", "x1": 0, "y1": 0, "x2": 0, "y2": 1, "stops": [{"offset":0,"color":"rgba(25,25,25,0.9)"},{"offset":0.1,"color":"rgba(25,25,25,0)"},{"offset":0.2,"color":"rgba(25,25,25,0.9)"},{"offset":0.3,"color":"rgba(25,25,25,0)"},{"offset":0.4,"color":"rgba(25,25,25,0.9)"},{"offset":0.5,"color":"rgba(25,25,25,0)"},{"offset":0.6,"color":"rgba(25,25,25,0.9)"},{"offset":0.7,"color":"rgba(25,25,25,0)"},{"offset":0.8,"color":"rgba(25,25,25,0.9)"},{"offset":0.9,"color":"rgba(25,25,25,0)"},{"offset":1,"color":"rgba(25,25,25,0.9)"}]}}},
        {"mark": {"type": "text", "fontSize": 20, "align": "left", "baseline": "middle", "dx": 17},
         "encoding": {"text": {"field": "pre"}}},
        {"transform": [{"filter": "datum.g == 'Midwest'"}],
         "mark": {"type": "text", "text": "n", "fontStyle": "italic", "fontSize": 20, "align": "left", "baseline": "middle", "dx": 102.6}},
        {"transform": [{"filter": "datum.g == 'Midwest'"}],
         "mark": {"type": "text", "fontSize": 20, "align": "left", "baseline": "middle", "dx": 119.3},
         "encoding": {"text": {"field": "post"}}},
        {"transform": [{"filter": "datum.g == 'North Central'"}],
         "mark": {"type": "text", "text": "n", "fontStyle": "italic", "fontSize": 20, "align": "left", "baseline": "middle", "dx": 148.1}},
        {"transform": [{"filter": "datum.g == 'North Central'"}],
         "mark": {"type": "text", "fontSize": 20, "align": "left", "baseline": "middle", "dx": 164.8},
         "encoding": {"text": {"field": "post"}}},
        {"transform": [{"filter": "datum.g == 'Donor blood'"}],
         "mark": {"type": "text", "text": "n", "fontStyle": "italic", "fontSize": 20, "align": "left", "baseline": "middle", "dx": 138.2}},
        {"transform": [{"filter": "datum.g == 'Donor blood'"}],
         "mark": {"type": "text", "fontSize": 20, "align": "left", "baseline": "middle", "dx": 154.9},
         "encoding": {"text": {"field": "post"}}}
      ]
    }
  ]
}
